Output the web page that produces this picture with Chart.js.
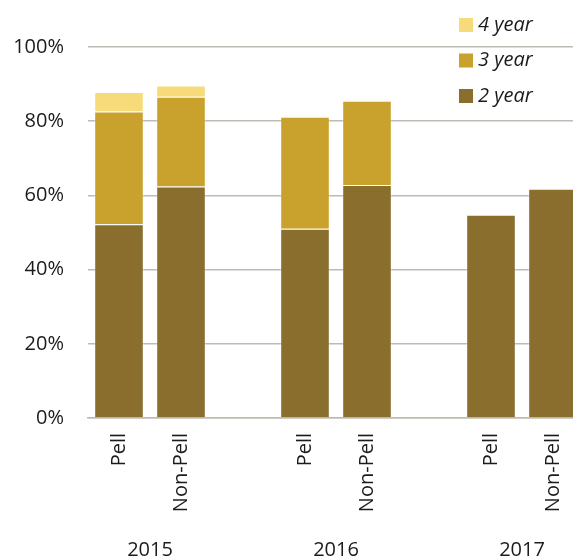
<!DOCTYPE html>
<html>
<head>
<meta charset="utf-8">
<script src="https://cdn.jsdelivr.net/npm/chart.js@4/dist/chart.umd.min.js"></script>
<style>
  html, body { margin: 0; padding: 0; background: #fff; overflow: hidden; }
  #wrap { position: relative; width: 592px; height: 558px; }
</style>
</head>
<body>
<div id="wrap"><canvas id="c"></canvas></div>
<script>
// Cohort completion rates (cumulative %, by student group and entry year)
const categories = ['Pell', 'Non-Pell', '', 'Pell', 'Non-Pell', '', 'Pell', 'Non-Pell'];
const years = ['2015', '2016', '2017'];
const yearGroups = [[0, 1], [3, 4], [6, 7]];   // category indexes belonging to each year
const rate2yr = [52.2, 62.4, null, 51.0, 62.8, null, 54.8, 61.8];
const rate3yr = [82.6, 86.6, null, 81.2, 85.5, null, null, null];
const rate4yr = [87.9, 89.6, null, null, null, null, null, null];
const yTicks = [0, 20, 40, 60, 80, 100];

// stacked segments are the gain over the previous milestone
const gain = (hi, lo) => hi.map((v, i) => (v == null || lo[i] == null) ? null : +(v - lo[i]).toFixed(1));

const FONT = "'Open Sans', sans-serif";
const TEXT = '#1b1b1b';
const GRID = '#bfbbb4';

// legend floating in the top-right corner, newest milestone on top
const floatingLegend = {
  id: 'floatingLegend',
  afterDraw(chart, args, opts) {
    const ctx = chart.ctx;
    const items = chart.data.datasets.slice().reverse();
    ctx.save();
    ctx.font = 'italic 20px ' + FONT;
    ctx.textBaseline = 'middle';
    ctx.textAlign = 'left';
    items.forEach((ds, i) => {
      const cy = opts.top + i * opts.rowGap;
      ctx.fillStyle = ds.backgroundColor;
      ctx.fillRect(opts.left, cy - 7, 14, 14);
      ctx.fillStyle = TEXT;
      ctx.fillText(ds.label, opts.left + 19, cy);
    });
    ctx.restore();
  }
};

// year captions centred under each pair of bars
const yearCaptions = {
  id: 'yearCaptions',
  afterDraw(chart, args, opts) {
    const ctx = chart.ctx;
    const xs = chart.scales.x;
    ctx.save();
    ctx.font = '20px ' + FONT;
    ctx.fillStyle = TEXT;
    ctx.textAlign = 'center';
    ctx.textBaseline = 'alphabetic';
    years.forEach((y, i) => {
      const g = yearGroups[i];
      const cx = (xs.getPixelForValue(g[0]) + xs.getPixelForValue(g[1])) / 2;
      ctx.fillText(y, cx, opts.baseline);
    });
    ctx.restore();
  }
};

new Chart(document.getElementById('c'), {
  type: 'bar',
  data: {
    labels: categories,
    datasets: [
      { label: '2 year', data: rate2yr, backgroundColor: '#8a6e2e', borderColor: 'rgba(255,255,255,0.25)', borderWidth: 1 },
      { label: '3 year', data: gain(rate3yr, rate2yr), backgroundColor: '#c9a12d', borderColor: 'rgba(255,255,255,0.25)', borderWidth: 1 },
      { label: '4 year', data: gain(rate4yr, rate3yr), backgroundColor: '#f7db7a', borderColor: 'rgba(255,255,255,0.25)', borderWidth: 1 }
    ]
  },
  options: {
    responsive: true,
    maintainAspectRatio: false,
    animation: false,
    layout: { padding: { top: 47, right: 0, bottom: 40, left: 0 } },
    datasets: { bar: { categoryPercentage: 1, barPercentage: 0.8 } },
    plugins: {
      legend: { display: false },
      tooltip: { enabled: false },
      floatingLegend: { left: 459, top: 25, rowGap: 35.5 },
      yearCaptions: { baseline: 556 }
    },
    scales: {
      x: {
        stacked: true,
        grid: { display: false, drawTicks: false },
        border: { display: true, color: GRID, width: 1.5 },
        ticks: {
          color: TEXT, font: { family: FONT, size: 20 },
          minRotation: 90, maxRotation: 90, autoSkip: false, padding: 15
        },
        afterFit(s) { s.height = 100; }
      },
      y: {
        stacked: true,
        min: 0, max: 100,
        afterBuildTicks(s) { s.ticks = yTicks.map(v => ({ value: v })); },
        grid: { color: GRID, lineWidth: 1.5, drawTicks: false },
        border: { display: false },
        ticks: {
          color: TEXT, font: { family: FONT, size: 20 }, padding: 24,
          callback: v => v + '%'
        },
        afterFit(s) { s.width = 88; }
      }
    }
  },
  plugins: [floatingLegend, yearCaptions]
});
</script>
</body>
</html>
